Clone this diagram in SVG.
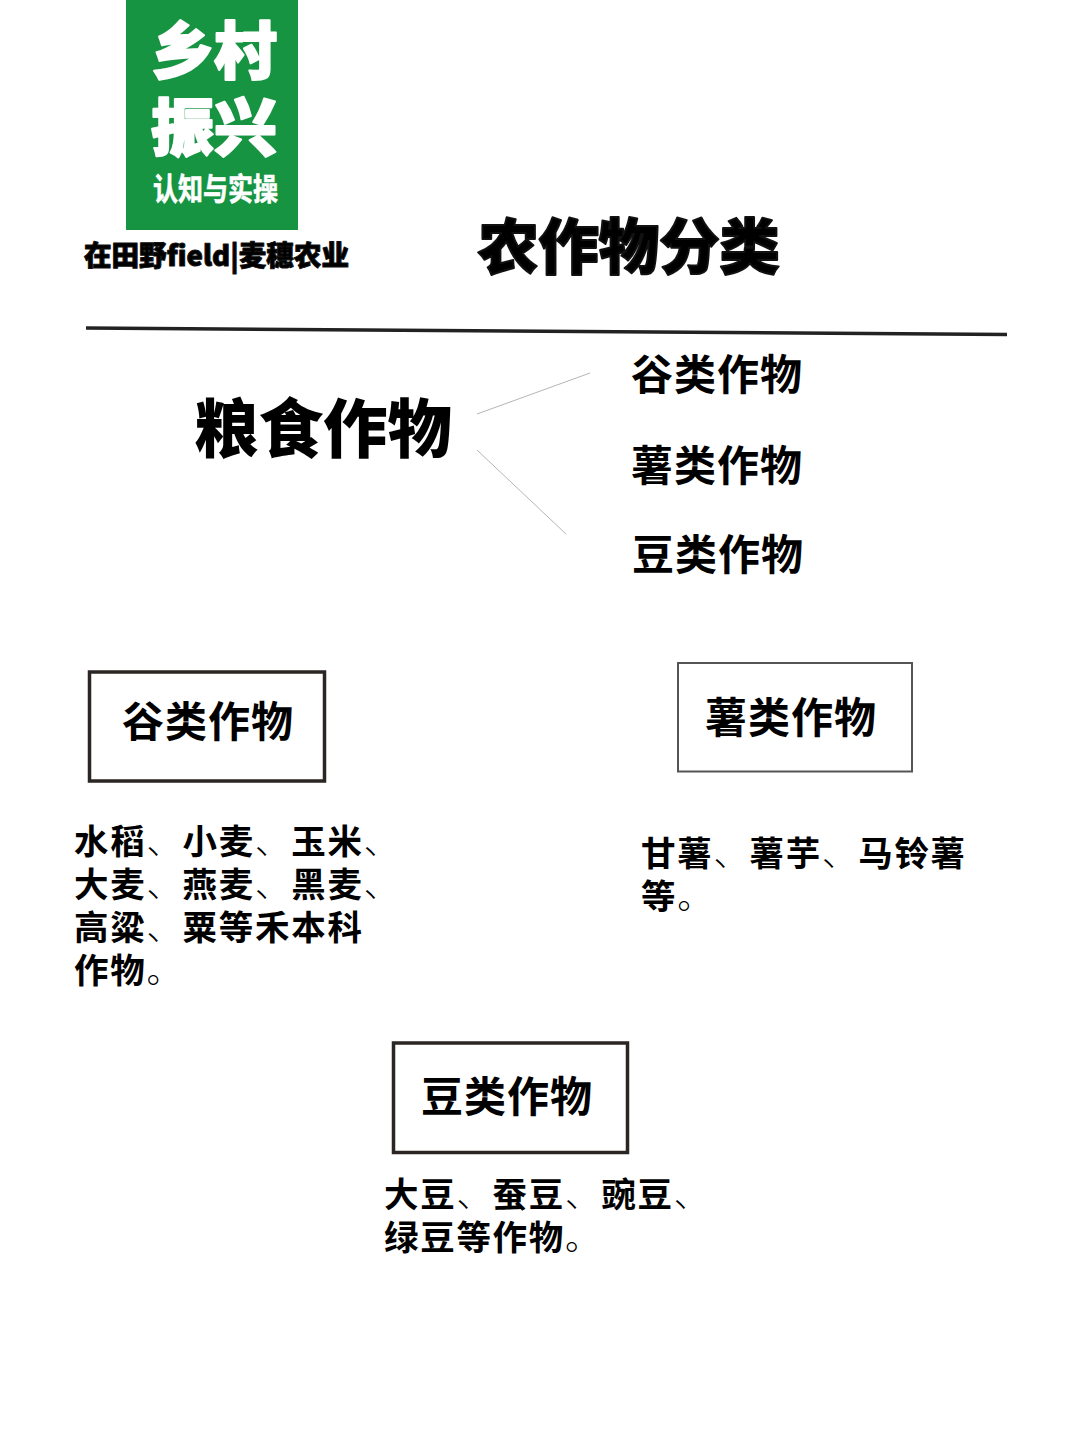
<svg xmlns="http://www.w3.org/2000/svg" width="1080" height="1441" viewBox="0 0 1080 1441">
<style>
text{font-family:"Noto Sans CJK SC","Liberation Sans",sans-serif;fill:#000}
.b{font-size:42px;font-weight:700;letter-spacing:1px}
.d{font-size:34.500px;font-weight:700;letter-spacing:1.700px}
.p{font-weight:300}
.l{stroke:#b5b5b5;stroke-width:1;fill:none}
.box{fill:#fff;stroke:#2b2523;stroke-width:3.500}
.w{fill:#fff;font-weight:900;stroke:#fff;stroke-linejoin:round}
.h{font-weight:900;stroke:#111;stroke-linejoin:round}
</style>
<rect width="1080" height="1441" fill="#fff"/>
<g id="logo">
<rect x="126" y="0" width="172" height="230" fill="#169441"/>
<text class="w" x="151" y="74" font-size="62" stroke-width="2" textLength="126" lengthAdjust="spacingAndGlyphs">乡村</text>
<text class="w" x="151" y="151" font-size="62" stroke-width="2" textLength="126" lengthAdjust="spacingAndGlyphs">振兴</text>
<text class="w" transform="translate(153 200) scale(1 1.250)" x="0" y="0" font-size="25" font-weight="700" stroke-width="0.500" textLength="125" lengthAdjust="spacingAndGlyphs" style="font-weight:700">认知与实操</text>
<text class="h" x="84" y="266" font-size="28" stroke-width="1" textLength="265" lengthAdjust="spacingAndGlyphs">在田野field|麦穗农业</text>
</g>
<g id="title"><text class="h" x="478" y="269" font-size="60" stroke-width="2" textLength="302" lengthAdjust="spacingAndGlyphs">农作物分类</text></g>
<g id="connectors">
<line x1="86" y1="328" x2="1007" y2="334.500" stroke="#222" stroke-width="3.500"/>
<line class="l" x1="477" y1="414" x2="590" y2="373"/>
<line class="l" x1="477" y1="450" x2="566" y2="534"/>
</g>
<g id="root"><text x="194" y="452" font-size="64" font-weight="900" textLength="258" lengthAdjust="spacingAndGlyphs">粮食作物</text></g>
<g id="n1"><text class="b" x="631" y="390">谷类作物</text></g>
<g id="n2"><text class="b" x="631" y="481">薯类作物</text></g>
<g id="n3"><text class="b" x="632" y="570">豆类作物</text></g>
<g id="guleibox"><rect class="box" x="89.500" y="672" width="235" height="109"/><text class="b" x="122" y="737">谷类作物</text></g>
<g id="shuleibox"><rect class="box" x="678" y="663" width="234" height="108.500" style="stroke-width:2;stroke:#555"/><text class="b" x="705" y="733">薯类作物</text></g>
<g id="douleibox"><rect class="box" x="393.500" y="1043" width="234" height="109.500"/><text class="b" x="421" y="1112">豆类作物</text></g>
<g id="gulei-text">
<text class="d" x="74" y="854">水稻<tspan class="p">、</tspan>小麦<tspan class="p">、</tspan>玉米<tspan class="p">、</tspan></text>
<text class="d" x="74" y="897">大麦<tspan class="p">、</tspan>燕麦<tspan class="p">、</tspan>黑麦<tspan class="p">、</tspan></text>
<text class="d" x="74" y="940">高粱<tspan class="p">、</tspan>粟等禾本科</text>
<text class="d" x="74" y="983">作物<tspan class="p">。</tspan></text>
</g>
<g id="shulei-text">
<text class="d" x="641" y="866">甘薯<tspan class="p">、</tspan>薯芋<tspan class="p">、</tspan>马铃薯</text>
<text class="d" x="641" y="909">等<tspan class="p">。</tspan></text>
</g>
<g id="doulei-text">
<text class="d" x="384" y="1207">大豆<tspan class="p">、</tspan>蚕豆<tspan class="p">、</tspan>豌豆<tspan class="p">、</tspan></text>
<text class="d" x="384" y="1250">绿豆等作物<tspan class="p">。</tspan></text>
</g>
</svg>
